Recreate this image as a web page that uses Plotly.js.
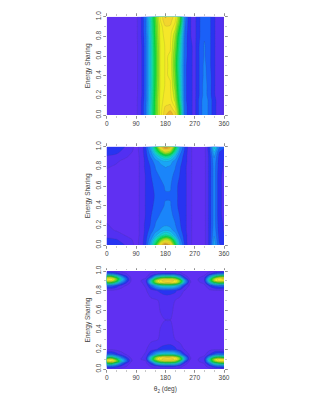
<!DOCTYPE html>
<html><head><meta charset="utf-8">
<script src="https://cdn.plot.ly/plotly-3.0.1.min.js"></script>
<style>html,body{margin:0;padding:0;background:#fff}#c{width:312px;height:403px}</style>
</head><body><div id="c"></div>
<script>
const X12=[0,30,60,90,105,120,135,150,165,180,195,210,225,240,255,270,285,300,315,330,345,360];
const Y12=[0,.05,.1,.15,.2,.3,.4,.5,.6,.7,.8,.85,.9,.95,1];
const Z1=[
[0,0,0,.1,.7,1.7,3.6,5.6,7,8.2,8.6,8,5,1.5,.9,.6,1.4,2.1,1.6,.9,.5,.2],
[0,0,0,.1,.7,1.7,3.6,5.5,7,8,8.2,7.5,4.8,1.5,.9,.6,1.4,2.1,1.6,.9,.5,.2],
[0,0,0,.1,.7,1.7,3.5,5.5,7,7.7,7.8,7,4.5,1.5,.9,.6,1.4,2.1,1.6,.9,.5,.2],
[0,0,0,.1,.7,1.6,3.4,5.5,7,7.5,7.5,6.6,4.2,1.4,.9,.6,1.4,2.1,1.6,.9,.5,.2],
[0,0,0,.1,.6,1.6,3.4,5.4,7,7.4,7.4,6.4,4,1.4,.9,.6,1.3,2,1.5,.8,.5,.2],
[0,0,0,.1,.6,1.6,3.3,5.3,6.9,7.3,7.3,6,3.8,1.4,.9,.6,1.3,2,1.5,.8,.5,.2],
[0,0,0,.1,.6,1.6,3.3,5.2,6.9,7.3,7.2,5.8,3.6,1.4,.9,.6,1.3,1.9,1.5,.8,.5,.2],
[0,0,0,.1,.6,1.6,3.3,5.2,6.9,7.3,7.2,5.6,3.5,1.4,.9,.6,1.3,1.9,1.4,.8,.5,.2],
[0,0,0,.1,.6,1.6,3.3,5.2,6.9,7.3,7.2,5.7,3.6,1.5,.9,.6,1.3,1.8,1.4,.8,.5,.2],
[0,0,0,.1,.6,1.6,3.3,5.3,6.9,7.3,7.3,6,3.9,1.5,.9,.6,1.3,1.8,1.4,.8,.5,.2],
[0,0,0,.1,.7,1.6,3.4,5.4,7,7.4,7.4,6.3,4.2,1.6,.8,.6,1.2,1.7,1.4,.8,.5,.2],
[0,0,0,.1,.7,1.7,3.5,5.5,7,7.5,7.5,6.6,4.6,1.7,.8,.6,1.2,1.7,1.4,.8,.5,.2],
[0,0,0,.1,.7,1.7,3.5,5.5,7,7.7,7.7,7,5,1.8,.8,.6,1.2,1.7,1.4,.8,.5,.2],
[0,0,0,.1,.7,1.7,3.6,5.6,7.2,8.1,7.9,7.3,5.5,1.9,.8,.6,1.2,1.7,1.4,.8,.5,.2],
[0,0,0,.1,.7,1.8,3.7,5.7,7.4,8.3,8.1,7.5,5.7,2,.8,.6,1.2,1.7,1.4,.8,.5,.2]];
const Z2=[
[1.1,1,.7,.1,.4,1.2,2.6,5,8,9.2,8.5,5.2,2.5,1.1,.4,0,0,.1,.9,2.6,1.3,1.1],
[.9,.8,.5,.1,.4,1.1,2.2,3.8,5.6,7,6.2,4,2,1,.4,0,0,.1,.9,2.4,1.2,.9],
[.6,.5,.2,0,.4,1,1.8,2.6,3.4,4,3.6,2.6,1.6,1,.4,0,0,.1,.9,2.2,1.1,.8],
[.4,.2,.1,0,.4,.9,1.5,2,2.4,2.7,2.5,2,1.4,.9,.4,0,0,.1,.9,2.1,1,.7],
[.3,.1,0,0,.4,.9,1.3,1.8,2,2.2,2.1,1.8,1.3,.9,.4,0,0,.1,.9,2,1,.7],
[.1,0,0,0,.4,.8,1.2,1.6,1.8,1.9,1.9,1.6,1.2,.9,.4,0,0,.1,.9,2,.9,.6],
[.1,0,0,0,.4,.8,1.1,1.4,1.6,1.8,1.8,1.4,1.1,.9,.4,0,0,.1,.9,2,.9,.6],
[.1,0,0,0,.4,.8,1.1,1.3,1.5,1.7,1.7,1.4,1.1,.9,.4,0,0,.1,.9,2,.9,.6],
[.1,0,0,0,.4,.8,1.1,1.4,1.6,1.8,1.8,1.4,1.1,.9,.4,0,0,.1,.9,2,.9,.6],
[.1,0,0,0,.4,.8,1.2,1.6,1.8,1.9,1.9,1.6,1.2,.9,.4,0,0,.1,.9,2,.9,.6],
[.3,.2,0,0,.4,.9,1.3,1.8,2.1,2.3,2.2,1.8,1.3,.9,.4,0,0,.1,.9,2,1,.7],
[.5,.3,.1,0,.4,.9,1.5,2,2.4,2.7,2.5,2,1.4,1,.4,0,0,.1,.9,2.1,1,.7],
[.7,.6,.3,0,.4,1,1.8,2.7,3.5,4.2,3.8,2.7,1.6,1,.4,0,0,.1,.9,2.3,1.1,.8],
[1,.9,.5,.1,.4,1.1,2.2,3.9,5.7,7.2,6.4,4.1,2,1.1,.4,0,0,.1,1,2.8,1.3,1],
[1.2,1.1,.7,.1,.4,1.2,2.6,5,8,9.2,8.6,5.3,2.5,1.2,.4,0,0,.1,1.1,3.6,1.8,1.4]];
const X3=[0,15,30,45,60,75,90,120,135,150,165,180,195,210,225,240,255,270,300,315,330,345,360];
const Y3=[0,.03,.06,.08,.1,.12,.15,.2,.3,.5,.7,.8,.85,.88,.9,.92,.94,.97,1];
const Z3=[
[.2,.3,.2,.1,0,0,0,.1,.1,.1,.2,.2,.2,.2,.1,0,0,0,0,.1,.2,.3,.2],
[1.6,1.8,1.3,.7,.3,0,0,.1,.3,.7,.9,1,1,.9,.5,.1,0,0,.1,.6,1.3,1.7,1.7],
[5,5.5,4,2,.8,.1,0,.1,1,2.8,4,4.4,4.4,4,2.4,.6,0,0,.3,2,3.9,5,5.2],
[7.2,7.8,6.2,3.6,1.6,.3,0,.2,2.2,5,6.4,6.9,6.9,6.3,4.4,1.4,.1,0,.6,3.4,6,7.3,7.4],
[6.6,7.2,5.2,3,1.4,.3,0,.5,3.6,6.4,7.6,8.2,8.2,7.6,6,2.5,.3,0,.7,3.8,6.6,7.6,7.5],
[4,4.4,3.2,1.8,.8,.1,0,.4,3.2,5.8,7.2,7.6,7.6,7.2,5.4,2.2,.3,0,.4,2.4,4.4,5,4.5],
[1.4,1.5,1,.5,.2,0,0,.3,1.4,2.6,3.4,3.7,3.7,3.3,2.2,.8,.1,0,.1,.7,1.4,1.6,1.5],
[.2,.2,.1,0,0,0,0,.2,.5,.7,.9,1,1,.9,.5,.2,0,0,0,.1,.2,.2,.2],
[0,0,0,0,0,0,.03,.1,.15,.2,.3,.45,.5,.25,.12,.03,0,0,0,0,0,0,0],
[0,0,0,0,0,0,.03,.1,.15,.2,.22,.25,.25,.15,.1,.03,0,0,0,0,0,0,0],
[0,0,0,0,0,0,.03,.1,.15,.2,.3,.45,.4,.25,.12,.03,0,0,0,0,0,0,0],
[.2,.2,.1,0,0,0,0,.2,.5,.7,.9,1,1,.9,.5,.2,0,0,0,.1,.2,.2,.2],
[1.5,1.5,1.1,.5,.2,0,0,.3,1.4,2.6,3.4,3.7,3.7,3.3,2.2,.8,.1,0,.1,.8,1.4,1.6,1.5],
[5,5,3.6,2,.8,.1,0,.4,3.2,5.8,7.2,7.6,7.6,7.2,5.4,2.2,.3,0,.4,2.6,4.6,5.4,5.2],
[7,7.2,5.4,3,1.3,.2,0,.5,3.6,6.4,7.6,8.2,8.2,7.6,6,2.5,.3,0,.7,3.9,6.6,7.5,7.5],
[7.5,7.6,6,3.4,1.5,.2,0,.3,2.2,5,6.4,6.9,6.9,6.3,4.4,1.4,.1,0,.7,3.6,6.4,7.7,7.8],
[6,6,4.4,2.4,1,.1,0,.1,1,2.8,4,4.4,4.4,4,2.4,.6,0,0,.4,2.4,4.6,6,6.2],
[1.8,1.8,1.3,.7,.3,0,0,.1,.3,.7,.9,1,1,.9,.5,.1,0,0,.1,.6,1.3,1.8,1.9],
[.3,.3,.2,.1,0,0,0,.1,.1,.1,.2,.2,.2,.2,.1,0,0,0,0,.1,.2,.3,.3]];
const xTicks=[0,90,180,270,360];
const yTicks=[0,.2,.4,.6,.8,1];
const yTickLabels=['0.0','0.2','0.4','0.6','0.8','1.0'];
const yLabel='Energy Sharing';
const xLabel='θ<sub>2</sub> (deg)';
const scale=[[0,'#6030f2'],[.03,'#5030f2'],[.07,'#2a2cf0'],[.12,'#1a58f8'],[.2,'#1a90fa'],[.3,'#16c8f0'],[.4,'#10e8a0'],[.5,'#08e040'],[.6,'#7ce820'],[.72,'#f4f020'],[.8,'#f6e030'],[.88,'#e8a828'],[.95,'#b89050'],[1,'#9a8a80']];

const W=312,H=403,L=106.7,R=224;
const panels=[[X12,Y12,Z1,16.7,115],[X12,Y12,Z2,146.7,245],[X3,Y3,Z3,271,369]];
const font={family:'"Liberation Sans",Arial,sans-serif',size:6.5,color:'#444'};
const data=[],layout={width:W,height:H,margin:{l:0,r:0,t:0,b:0},paper_bgcolor:'#fff',plot_bgcolor:'#fff',showlegend:false,font};
panels.forEach((p,i)=>{
  const n=i===0?'':String(i+1);
  data.push({type:'contour',x:p[0],y:p[1],z:p[2],xaxis:'x'+n,yaxis:'y'+n,zmin:0,zmax:10,colorscale:scale,showscale:false,hoverinfo:'skip',
    autocontour:false,contours:{start:.25,end:10,size:.5,coloring:'fill'},line:{color:'rgba(70,70,70,.3)',width:.4,smoothing:1}});
  const ax={ticks:'outside',ticklen:2.5,tickwidth:.5,tickcolor:'#555',showline:false,showgrid:false,zeroline:false,mirror:'ticks',tickfont:font};
  const xa=Object.assign({},ax,{domain:[L/W,R/W],range:[0,360],tickmode:'array',tickvals:xTicks,anchor:'y'+n,
    minor:{dtick:30,ticks:'outside',ticklen:1.5,tickwidth:.4,tickcolor:'#777'}});
  if(i===2) xa.title={text:xLabel,font:font,standoff:6};
  layout['xaxis'+n]=xa;
  layout['yaxis'+n]=Object.assign({},ax,{domain:[1-p[4]/H,1-p[3]/H],range:[0,1],tickmode:'array',tickvals:yTicks,ticktext:yTickLabels,tickangle:-90,anchor:'x'+n,
    minor:{dtick:.1,ticks:'outside',ticklen:1.5,tickwidth:.4,tickcolor:'#777'},
    title:{text:yLabel,font:font,standoff:3}});
});
Plotly.newPlot('c',data,layout,{staticPlot:true,displayModeBar:false});
</script></body></html>
